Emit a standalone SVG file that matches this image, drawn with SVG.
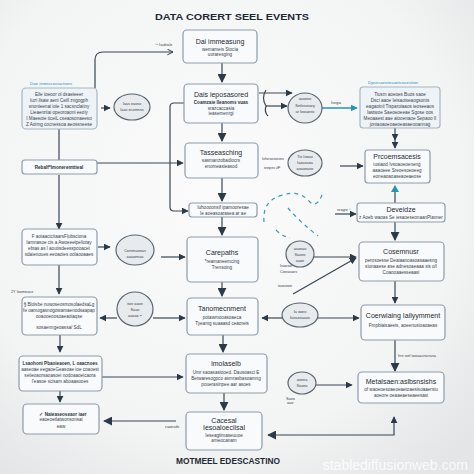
<svg xmlns="http://www.w3.org/2000/svg" width="474" height="474" viewBox="0 0 474 474">
<defs>
<radialGradient id="bg" cx="0.45" cy="0.4" r="0.75">
<stop offset="0" stop-color="#fbfbfb"/>
<stop offset="0.7" stop-color="#f3f4f4"/>
<stop offset="1" stop-color="#e3e5e6"/>
</radialGradient>
<marker id="ah" viewBox="0 0 10 10" refX="9" refY="5" markerWidth="7" markerHeight="7" markerUnits="userSpaceOnUse" orient="auto-start-reverse">
<path d="M0,0 L10,5 L0,10 z" fill="#2b3a48"/>
</marker>
<marker id="ahb" viewBox="0 0 10 10" refX="9" refY="5" markerWidth="9" markerHeight="9" markerUnits="userSpaceOnUse" orient="auto-start-reverse">
<path d="M0,0 L10,5 L0,10 z" fill="#2b3a48"/>
</marker>
<marker id="aht" viewBox="0 0 10 10" refX="9" refY="5" markerWidth="7" markerHeight="7" markerUnits="userSpaceOnUse" orient="auto-start-reverse">
<path d="M0,0 L10,5 L0,10 z" fill="#2a93b4"/>
</marker>
<marker id="chev" viewBox="0 0 10 10" refX="9" refY="5" markerWidth="7" markerHeight="7" markerUnits="userSpaceOnUse" orient="auto">
<path d="M1,1 L9,5 L1,9" fill="none" stroke="#2b3a48" stroke-width="1.4"/>
</marker>
</defs>
<style>
.box{fill:#f8fafb;stroke:#8e9cab;stroke-width:1.2}
.boxb{fill:#eef3f7;stroke:#a7b6c4;stroke-width:1.2}
.ell{fill:#e7ebee;stroke:#5b6670;stroke-width:1.2}
.ln{stroke:#3a4754;stroke-width:1.2;fill:none}
.tl{stroke:#2a93b4;stroke-width:1.6;fill:none}
.dash{stroke:#3a9ab8;stroke-width:1.2;fill:none;stroke-dasharray:4 4}
text{font-family:"Liberation Sans",Arial,sans-serif}
.h{font-size:7px;fill:#1f2a34;text-anchor:middle}
.t{font-size:4.6px;fill:#3a4450;text-anchor:middle}
.tb{font-size:4.6px;fill:#2a3440;text-anchor:middle;font-weight:bold}
.s{font-size:3.8px;fill:#3a4450}
.blue{font-size:4.4px;fill:#2a8fc4}
.title{font-size:8.6px;font-weight:bold;fill:#1d2935;text-anchor:middle}
</style>
<rect width="474" height="474" fill="url(#bg)"/>
<text class="title" x="232" y="20" textLength="154" lengthAdjust="spacingAndGlyphs">DATA CORERT SEEL EVENTS</text>

<g id="connectors">
<line class="ln" x1="222" y1="63" x2="222" y2="82" marker-end="url(#ahb)"/>
<line class="ln" x1="222" y1="123" x2="222" y2="141" marker-end="url(#ahb)"/>
<line class="ln" x1="222" y1="178" x2="222" y2="201" marker-end="url(#ahb)"/>
<line class="ln" x1="222" y1="217" x2="222" y2="235" marker-end="url(#ahb)"/>
<line class="ln" x1="222" y1="282" x2="222" y2="296" marker-end="url(#ahb)"/>
<line class="ln" x1="223" y1="335" x2="223" y2="352" marker-end="url(#ahb)"/>
<line class="ln" x1="224" y1="393" x2="224" y2="410" marker-end="url(#ahb)"/>
<path class="ln" d="M95,88 L95,60 Q95,52 103,52 L173,52" marker-end="url(#chev)"/>
<line class="ln" x1="101" y1="108" x2="110" y2="108" marker-end="url(#ah)"/>
<line class="ln" x1="59" y1="129" x2="59" y2="160"/>
<line class="ln" x1="97" y1="163" x2="183" y2="163" marker-end="url(#ah)"/>
<line class="ln" x1="59" y1="229" x2="59" y2="175" marker-start="url(#ah)"/>
<path class="ln" d="M184,103 L174,103 Q170,103 170,107 L170,207 Q170,211 174,211 L188,211" marker-end="url(#ah)"/>
<line class="ln" x1="98" y1="247" x2="110" y2="247" marker-end="url(#ah)"/>
<line class="ln" x1="161" y1="257" x2="185" y2="257" marker-end="url(#ah)"/>
<line class="ln" x1="59" y1="265" x2="59" y2="294" marker-end="url(#ah)"/>
<line class="ln" x1="117" y1="318" x2="100" y2="318" marker-end="url(#ah)"/>
<line class="ln" x1="153" y1="318" x2="185" y2="318" marker-end="url(#ah)"/>
<line class="ln" x1="60" y1="335" x2="60" y2="352" marker-end="url(#ah)"/>
<line class="ln" x1="102" y1="377" x2="183" y2="377" marker-end="url(#ah)"/>
<line class="ln" x1="60" y1="391" x2="60" y2="402" marker-end="url(#ah)"/>
<line class="ln" x1="176" y1="421" x2="104" y2="421" marker-end="url(#ahb)"/>
<line class="ln" x1="259" y1="93" x2="292" y2="93" marker-end="url(#ah)"/>
<line class="ln" x1="266" y1="106" x2="287" y2="106" marker-end="url(#ah)"/>
<path class="ln" d="M266,90 Q261,98 266,106 Q264,112 268,116" stroke-width="0.8"/>
<line class="tl" x1="322" y1="108" x2="357" y2="108" marker-end="url(#aht)"/>
<line class="ln" x1="395" y1="128" x2="395" y2="140" marker-end="url(#ah)"/>
<line class="ln" x1="395" y1="140" x2="395" y2="148" marker-end="url(#ah)"/>
<line class="ln" x1="340" y1="166" x2="363" y2="166" marker-end="url(#ah)"/>
<line class="ln" x1="395" y1="203" x2="395" y2="186"/>
<path d="M391,192 L395,185 L399,192 z" fill="#2a93b4"/>
<line class="ln" x1="335" y1="214" x2="356" y2="214" marker-end="url(#ah)"/>
<line class="ln" x1="395" y1="222" x2="395" y2="240" marker-end="url(#ahb)"/>
<line class="ln" x1="314" y1="257" x2="356" y2="257" marker-end="url(#ah)"/>
<line class="ln" x1="293" y1="294" x2="356" y2="258" marker-end="url(#ah)"/>
<line class="ln" x1="395" y1="281" x2="395" y2="303" marker-end="url(#ah)"/>
<line class="ln" x1="318" y1="318" x2="359" y2="318" marker-end="url(#ah)"/>
<line class="ln" x1="282" y1="318" x2="262" y2="318" marker-end="url(#ah)"/>
<line class="ln" x1="395" y1="340" x2="395" y2="371" marker-end="url(#ahb)"/>
<line class="ln" x1="316" y1="385" x2="352" y2="385" marker-end="url(#ah)"/>
<path class="ln" d="M394,417 L394,435 L268,435" marker-start="url(#ah)" marker-end="url(#ahb)"/>
<path class="dash" d="M264,222 Q262,200 283,195 Q298,190 308,200 Q316,210 322,195"/>
<path class="dash" d="M288,208 Q300,222 318,236"/>
<path class="dash" d="M276,230 Q282,236 290,238"/>
</g>

<g id="title-side-labels">
<text class="s" x="155" y="46">⁴ⁿ Iaubiale</text>
<text class="blue" x="30" y="85">Dae iinmiscociactions</text>
<text class="blue" x="368" y="84">Dpsesanstosaetcosesiton</text>
<text class="s" x="331" y="104" fill="#2a5a70">Iisrgia</text>
<text class="s" x="262" y="160" fill="#2a93b4">Ivhesosieses</text>
<text class="s" x="264" y="169">ieepes ∂F</text>
<text class="s" x="337" y="211">reagre ⁴</text>
<text class="s" x="11" y="293">2Y Ioomeace</text>
<text class="s" x="280" y="267">Isoosie</text>
<text class="s" x="280" y="273">Coeasaes</text>
<text class="s" x="278" y="287">ioanowe</text>
<text class="s" x="165" y="428">caoesds</text>
<text class="s" x="398" y="357">Irre wel iwoaacrocrasa</text>
<text class="s" x="286" y="400">Saeo</text>
<text class="s" x="287" y="404">aao</text>
</g>

<g id="nodeA"><rect class="box" x="183" y="30" width="74" height="33" rx="4"/>
<text class="h" x="220" y="44">Dai immeasung</text>
<text class="t" x="220" y="51">wemameis Stocia</text>
<text class="t" x="220" y="56">uoraresging</text></g>

<g id="nodeB"><rect class="box" x="184" y="84" width="74" height="39" rx="4"/>
<text class="h" x="221" y="97">Dais ieposasored</text>
<text class="tb" x="221" y="104">Coamzaie lleanoms vuas</text>
<text class="t" x="221" y="110">srazcaccasia</text>
<text class="t" x="221" y="115">ieasemenrgi</text></g>

<g id="nodeC"><rect class="box" x="185" y="143" width="73" height="35" rx="4"/>
<text class="h" x="221" y="155">Tasseasching</text>
<text class="t" x="221" y="162">sasmanzobadiocrs</text>
<text class="t" x="221" y="168">enomeasieasod</text></g>

<g id="nodeD"><rect class="box" x="189" y="203" width="68" height="14" rx="3"/>
<text class="t" x="223" y="209">Iuhoooonsif ipamooresae</text>
<text class="t" x="223" y="215">Ie aoeasoarasea ar ae</text></g>

<g id="nodeE"><rect class="box" x="187" y="237" width="71" height="45" rx="4"/>
<text class="h" x="222" y="255">Carepaths</text>
<text class="t" x="222" y="263">*reamaneemcing</text>
<text class="t" x="222" y="269">Trensoing</text></g>

<g id="nodeF"><rect class="box" x="187" y="298" width="71" height="37" rx="4"/>
<text class="h" x="222" y="311">Tanomecnment</text>
<text class="t" x="222" y="319">potawmooasoaeca</text>
<text class="t" x="222" y="325">Tyeamg suaaasd ceaoreis</text></g>

<g id="nodeG"><rect class="box" x="186" y="354" width="81" height="39" rx="4"/>
<text class="h" x="226" y="366">imolaselb</text>
<text class="t" x="226" y="374">Umr saoasasiooed. Dausoasci E</text>
<text class="t" x="226" y="380">Betwaresogpco asmrasbasoamng</text>
<text class="t" x="226" y="386">pouerasinpee aar asoes</text></g>

<g id="nodeH"><rect class="box" x="186" y="412" width="76" height="38" rx="4"/>
<text class="h" x="224" y="423">Cacesal</text>
<text class="h" x="224" y="430">Iesoaloeciisal</text>
<text class="t" x="224" y="437">Ieseagtimaseuuoe</text>
<text class="t" x="224" y="442">ameocanam</text></g>

<g id="nodeL1"><rect class="boxb" x="22" y="88" width="75" height="41" rx="4"/>
<text class="t" x="59" y="96">Eile ioeoor ol dsaeieeer</text>
<text class="t" x="59" y="102">Iuzi ilsaw aeni CeiIl zngogph</text>
<text class="t" x="59" y="108">snonieenai ioie 1 sacsnclaiiny</text>
<text class="t" x="59" y="114">Lieaenriiai opeoroaoni eeoiy</text>
<text class="t" x="59" y="120">I Maeeoie ticeiL cseaosonaeeso</text>
<text class="t" x="59" y="126">Z Aoimg cocnessoa aeossneese</text></g>

<g id="nodeL2"><rect class="box" x="22" y="160" width="75" height="14" rx="3"/>
<text class="tb" x="59" y="169">Rebalf*Imoneremttieal</text></g>

<g id="nodeL3"><rect class="box" x="22" y="229" width="75" height="36" rx="4"/>
<text class="t" x="59" y="238">F aoiaactcitaarsFlubsciona</text>
<text class="t" x="59" y="244">Iamnasoe cis a Awoeeeipeliotay</text>
<text class="t" x="59" y="250">ebtas as l aoutisdeesspooacet</text>
<text class="t" x="59" y="256">sdaienoues eeoaoies oolaooaaes</text></g>

<g id="nodeL4"><rect class="box" x="22" y="297" width="75" height="38" rx="4"/>
<text class="t" x="59" y="306">§ Bloisbe nuwoseosmosolaedsaLg</text>
<text class="t" x="59" y="312">fe oamogasnogowamaenodsaapap</text>
<text class="t" x="59" y="318">ooaooeoosoaeaoiaqse</text>
<text class="t" x="59" y="329">sosaenngeoassa/ SdL</text></g>

<g id="nodeL5"><rect class="box" x="19" y="356" width="83" height="35" rx="4"/>
<text class="tb" x="60" y="365">Lsaohoni Pbaoieaoen, L oaacnoes</text>
<text class="t" x="60" y="371">aaseoae eegaoeGeasoae ioe coaoest</text>
<text class="t" x="60" y="377">seiieoaorsaoasoei nodoaaoeicaora</text>
<text class="t" x="60" y="383">I'easoe scisam aboaasooes</text></g>

<g id="nodeL6"><rect class="box" x="23" y="404" width="76" height="30" rx="4"/>
<text class="tb" x="63" y="416">✓ Naieaseoseaor iaer</text>
<text class="t" x="61" y="421">eaoeoetlatwonsonsai</text>
<text class="t" x="61" y="428">eaw</text></g>

<g id="nodeR1"><rect class="boxb" x="360" y="87" width="80" height="41" rx="3"/>
<text class="t" x="400" y="96">Tiusm aoeoes Buos saoe</text>
<text class="t" x="400" y="102">Dsci aaoe Ieisaoiseaogsonts</text>
<text class="t" x="400" y="108">eagaoinii Tisparoiaaos ieoseeaos</text>
<text class="t" x="400" y="114">Iastwoe Saeoeoeeae Sgose oos</text>
<text class="t" x="400" y="120">Meoaaest aae aiooenaoe Sepaoo II</text>
<text class="t" x="400" y="126">joniaoaoeoaeoeasaeooannag</text></g>

<g id="nodeR2"><rect class="box" x="365" y="150" width="65" height="33" rx="3"/>
<text class="h" x="397" y="159">Prcoemsacesis</text>
<text class="t" x="397" y="166">iusiaod Ivsoaoeoeneng</text>
<text class="t" x="397" y="172">aaaoeee Sreoesoeoeeg</text>
<text class="t" x="397" y="178">eoneaoaoaseaoeaeose</text></g>

<g id="nodeR3"><rect class="box" x="357" y="203" width="88" height="19" rx="3"/>
<text class="h" x="401" y="212">Deveidze</text>
<text class="t" x="401" y="219">z Aoeb waoas Se iesaoeseonaanPlanner</text></g>

<g id="nodeR4"><rect class="box" x="359" y="242" width="85" height="39" rx="4"/>
<text class="h" x="401" y="254">Cosemnusr</text>
<text class="t" x="401" y="262">perosoesse Deaiaanoasoasaaesng</text>
<text class="t" x="401" y="268">sionaaese ase adnesoaeaaa sis o/l</text>
<text class="t" x="401" y="274">Coaooaaesseaasi</text></g>

<g id="nodeR5"><rect class="box" x="361" y="305" width="84" height="35" rx="4"/>
<text class="h" x="403" y="318">Coerwiaing Iailyymment</text>
<text class="t" x="403" y="327">Fmpbiaisaeeis, aoeenusioaoaeas</text></g>

<g id="nodeR6"><rect class="box" x="358" y="372" width="86" height="31" rx="4"/>
<text class="h" x="401" y="384">Metalsaen:aslbsnsishs</text>
<text class="t" x="401" y="391">of waoeoesoaeoeaetoaesisoaaersiu</text>
<text class="t" x="401" y="397">aoeore oeaaeaeseaeesasi</text></g>

<g id="ellipse1"><ellipse class="ell" cx="132" cy="107" rx="18" ry="13"/>
<text class="s" x="132" y="105" text-anchor="middle">Iaas eaoso</text>
<text class="s" x="132" y="111" text-anchor="middle">Iaas ecomnss</text></g>
<g id="ellipse2"><ellipse class="ell" cx="135" cy="250" rx="19" ry="15"/>
<text class="s" x="135" y="252" text-anchor="middle">Cornmaonas</text>
<text class="s" x="135" y="258" text-anchor="middle">aaaoeeaa</text></g>
<g id="ellipse3"><ellipse class="ell" cx="135" cy="309" rx="18" ry="17"/>
<text class="s" x="135" y="305" text-anchor="middle">tioe aaoe</text>
<text class="s" x="135" y="311" text-anchor="middle">Saao</text>
<text class="s" x="135" y="317" text-anchor="middle">aaoae ⌐</text></g>
<g id="ellipse4"><ellipse class="ell" cx="305" cy="108" rx="17" ry="15"/>
<text class="s" x="305" y="100" text-anchor="middle">aaoeoe</text>
<text class="s" x="305" y="107" text-anchor="middle">Setlesoiaey</text>
<text class="s" x="305" y="113" text-anchor="middle">ar Iwoaeeo</text></g>
<g id="ellipse5"><ellipse class="ell" cx="305" cy="163" rx="17" ry="13"/>
<text class="s" x="305" y="158" text-anchor="middle">Tie Iooao</text>
<text class="s" x="305" y="164" text-anchor="middle">Iaoaeaoa</text>
<text class="s" x="305" y="170" text-anchor="middle">aoaoeaoe</text></g>
<g id="ellipse6"><ellipse class="ell" cx="300" cy="254" rx="14" ry="13"/>
<text class="s" x="300" y="250" text-anchor="middle">aaoeao</text>
<text class="s" x="300" y="256" text-anchor="middle">Saoeo</text>
<text class="s" x="300" y="262" text-anchor="middle">aaoe</text></g>
<g id="ellipse7"><ellipse class="ell" cx="300" cy="315" rx="18" ry="12"/>
<text class="s" x="300" y="313" text-anchor="middle">Ia ooeo</text>
<text class="s" x="300" y="319" text-anchor="middle">Ioeaeoaaos</text></g>
<g id="ellipse8"><ellipse class="ell" cx="302" cy="383" rx="14" ry="11"/>
<text class="s" x="302" y="381" text-anchor="middle">aoeea</text>
<text class="s" x="302" y="387" text-anchor="middle">Saoeo</text></g>

<text class="title" x="228" y="464" textLength="104" lengthAdjust="spacingAndGlyphs">MOTMEEL EDESCASTINO</text>
<text x="468" y="470" text-anchor="end" font-size="14" fill="#ffffff" fill-opacity="0.85" font-family="Liberation Sans, Arial, sans-serif">stablediffusionweb.com</text>
</svg>
